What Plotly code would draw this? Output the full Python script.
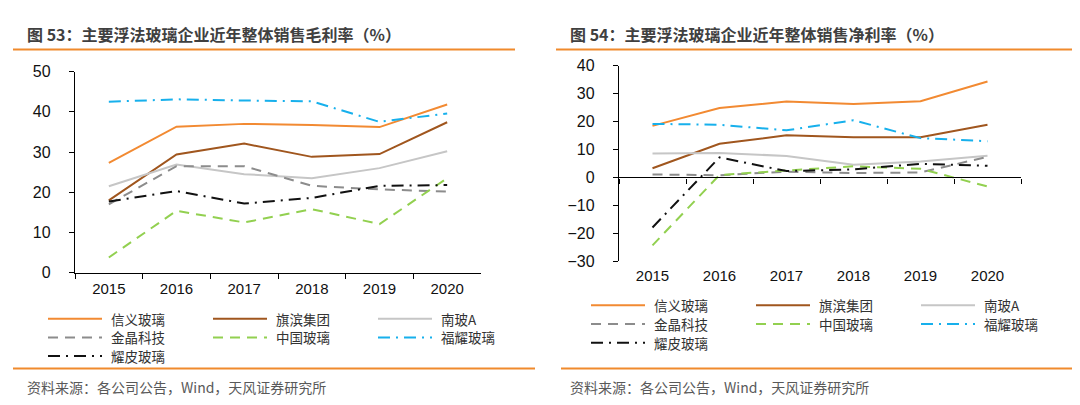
import plotly.graph_objects as go

W, H = 1080, 405

years = ['2015', '2016', '2017', '2018', '2019', '2020']
companies = ['信义玻璃', '旗滨集团', '南玻A', '金晶科技', '中国玻璃', '福耀玻璃', '耀皮玻璃']

# 毛利率 (%)
gross_xinyi = [27.3, 36.3, 37.0, 36.7, 36.2, 41.8]
gross_qibin = [18.0, 29.4, 32.1, 28.8, 29.5, 37.4]
gross_nanbo = [21.5, 26.9, 24.5, 23.5, 26.0, 30.2]
gross_jinjing = [17.0, 26.5, 26.5, 21.6, 20.7, 20.2]
gross_china = [3.8, 15.4, 12.5, 15.8, 12.1, 23.5]
gross_fuyao = [42.5, 43.1, 42.8, 42.6, 37.5, 39.6]
gross_yaopi = [17.7, 20.3, 17.2, 18.6, 21.6, 21.8]

# 净利率 (%)
net_xinyi = [18.5, 24.9, 27.2, 26.3, 27.3, 34.4]
net_qibin = [3.3, 12.1, 15.1, 14.4, 14.4, 18.9]
net_nanbo = [8.6, 8.8, 7.7, 4.6, 5.7, 7.8]
net_jinjing = [1.1, 0.8, 2.1, 1.6, 1.8, 7.4]
net_china = [-24.3, 0.9, 2.5, 4.0, 3.1, -3.2]
net_fuyao = [19.2, 18.9, 16.9, 20.5, 14.1, 13.0]
net_yaopi = [-17.9, 7.2, 2.3, 2.9, 4.9, 4.2]

gross = [gross_xinyi, gross_qibin, gross_nanbo, gross_jinjing, gross_china, gross_fuyao, gross_yaopi]
net = [net_xinyi, net_qibin, net_nanbo, net_jinjing, net_china, net_fuyao, net_yaopi]

styles = [
    dict(color='#F28A32', width=2, dash='solid'),
    dict(color='#A0561E', width=2, dash='solid'),
    dict(color='#C6C6C6', width=2, dash='solid'),
    dict(color='#8C8C8C', width=2, dash='10px,7px'),
    dict(color='#92D050', width=2, dash='10px,7px'),
    dict(color='#17B0EC', width=2, dash='12px,6px,2px,6px'),
    dict(color='#111111', width=2, dash='12px,6px,2px,6px'),
]
# legend grid position (row, col) of each company
grid = [(0, 0), (0, 1), (0, 2), (1, 0), (1, 1), (1, 2), (2, 0)]


def px(x):
    return x / W


def py_(y):
    return 1 - y / H


fig = go.Figure()
for i, name in enumerate(companies):
    fig.add_trace(go.Scatter(x=years, y=gross[i], name=name, mode='lines', line=styles[i],
                             xaxis='x', yaxis='y'))
for i, name in enumerate(companies):
    fig.add_trace(go.Scatter(x=years, y=net[i], name=name, mode='lines', line=styles[i],
                             xaxis='x2', yaxis='y2'))
# carrier for the zero-line axis of the right chart
fig.add_trace(go.Scatter(x=years, y=[None] * 6, xaxis='x3', yaxis='y2', hoverinfo='skip'))

axcommon = dict(showline=True, linecolor='#000000', linewidth=1.3, ticks='outside', ticklen=5,
                tickcolor='#000000', showgrid=False, zeroline=False)
xfont = dict(family='Liberation Sans, Arial', size=15, color='#111111')
yfont = dict(family='Liberation Sans, Arial', size=16, color='#111111')

ldom_y = [py_(268), py_(58)]
rdom_y = [py_(256), py_(52)]
zero_pos = rdom_y[0] + (30 / 70) * (rdom_y[1] - rdom_y[0])

fig.update_layout(
    width=W, height=H, margin=dict(l=0, r=0, t=0, b=0),
    paper_bgcolor='white', plot_bgcolor='white', showlegend=False,
    xaxis=dict(axcommon, domain=[px(67), px(473)], anchor='y', type='category',
               tickson='boundaries', range=[-0.5, 5.5], ticklabelstandoff=2, tickfont=xfont),
    yaxis=dict(axcommon, domain=ldom_y, anchor='x', range=[0, 50], dtick=10,
               ticklabelstandoff=15, tickfont=yfont),
    xaxis2=dict(axcommon, domain=[px(611), px(1013)], anchor='y2', type='category',
                range=[-0.5, 5.5], showline=False, ticks='', ticklabelstandoff=4,
                tickfont=xfont),
    yaxis2=dict(axcommon, domain=rdom_y, anchor='x2', range=[-30, 40], dtick=10,
                ticklabelstandoff=15, tickfont=yfont),
    xaxis3=dict(axcommon, overlaying='x2', anchor='free', position=zero_pos, type='category',
                tickson='boundaries', range=[-0.5, 5.5], showticklabels=False),
)

orange = '#F08A2C'
shapes = []
for x0, x1, y in [(5, 507, 35), (548, 1072, 35), (5, 527, 368), (553, 1073, 368)]:
    shapes.append(dict(type='line', xref='paper', yref='paper', x0=px(x0), x1=px(x1),
                       y0=py_(y), y1=py_(y), line=dict(color=orange, width=2)))

titlefont = dict(family='Noto Sans CJK SC', size=16, color='#404040', weight='bold')
srcfont = dict(family='Noto Sans CJK SC', size=14, color='#595959')
legfont = dict(family='Noto Sans CJK SC', size=13.5, color='#333333')
annotations = [
    dict(text='图 53：主要浮法玻璃企业近年整体销售毛利率（%）', x=px(17), y=py_(19),
         font=titlefont),
    dict(text='图 54：主要浮法玻璃企业近年整体销售净利率（%）', x=px(560), y=py_(19),
         font=titlefont),
    dict(text='资料来源：各公司公告，Wind，天风证券研究所', x=px(17), y=py_(387), font=srcfont),
    dict(text='资料来源：各公司公告，Wind，天风证券研究所', x=px(560), y=py_(387), font=srcfont),
]

# legends drawn as key lines + labels, one block per chart
legend_blocks = [
    dict(x0=40, rows_y=[316, 335.5, 355]),
    dict(x0=583, rows_y=[302, 321.5, 341]),
]
col_step, key_len, text_gap = 165, 54, 7
for blk in legend_blocks:
    for i, name in enumerate(companies):
        r, c = grid[i]
        kx = blk['x0'] + c * col_step
        ky = blk['rows_y'][r]
        shapes.append(dict(type='line', xref='paper', yref='paper', x0=px(kx), x1=px(kx + key_len),
                           y0=py_(ky), y1=py_(ky), line=styles[i]))
        annotations.append(dict(text=name, x=px(kx + key_len + text_gap), y=py_(ky), font=legfont))

for a in annotations:
    a.update(xref='paper', yref='paper', xanchor='left', yanchor='middle', showarrow=False)
fig.update_layout(shapes=shapes, annotations=annotations)

fig.write_html('out.html')
